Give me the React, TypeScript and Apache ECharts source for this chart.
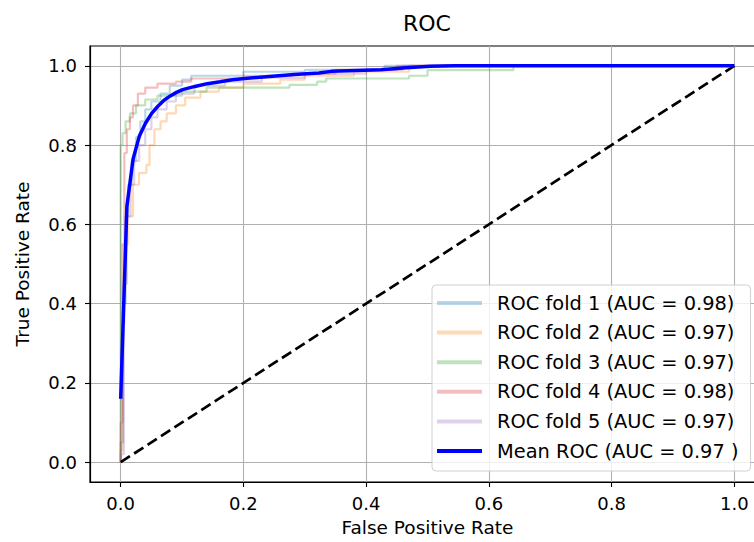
import React, { useEffect, useRef } from "react";
import * as echarts from "echarts";

// ---------- data ----------
const tickValues = [0, 0.2, 0.4, 0.6, 0.8, 1.0];

const foldNames = [
  "ROC fold 1 (AUC = 0.98)",
  "ROC fold 2 (AUC = 0.97)",
  "ROC fold 3 (AUC = 0.97)",
  "ROC fold 4 (AUC = 0.98)",
  "ROC fold 5 (AUC = 0.97)",
];
const meanName = "Mean ROC (AUC = 0.97 )";

const fold1 = [
  [0, 0], [0, 0.05], [0.004, 0.05], [0.004, 0.4], [0.008, 0.4], [0.008, 0.62], [0.012, 0.62], [0.012, 0.7],
  [0.018, 0.7], [0.018, 0.76], [0.025, 0.76], [0.025, 0.82], [0.032, 0.82], [0.032, 0.86], [0.04, 0.86],
  [0.04, 0.89], [0.05, 0.89], [0.05, 0.91], [0.065, 0.91], [0.065, 0.93], [0.08, 0.93], [0.08, 0.95],
  [0.1, 0.95], [0.1, 0.965], [0.115, 0.965], [0.115, 0.975], [0.2, 0.975], [0.2, 0.985], [0.3, 0.985],
  [0.3, 0.99], [0.43, 0.99], [0.43, 1], [1, 1],
];
const fold2 = [
  [0, 0], [0, 0.03], [0.003, 0.03], [0.003, 0.35], [0.006, 0.35], [0.006, 0.55], [0.012, 0.55], [0.012, 0.62],
  [0.02, 0.62], [0.02, 0.7], [0.03, 0.7], [0.03, 0.73], [0.042, 0.73], [0.042, 0.75], [0.047, 0.75],
  [0.047, 0.8], [0.055, 0.8], [0.055, 0.84], [0.065, 0.84], [0.065, 0.86], [0.075, 0.86], [0.075, 0.88],
  [0.09, 0.88], [0.09, 0.9], [0.105, 0.9], [0.105, 0.92], [0.13, 0.92], [0.13, 0.935], [0.16, 0.935],
  [0.16, 0.945], [0.2, 0.945], [0.2, 0.955], [0.26, 0.955], [0.26, 0.965], [0.3, 0.965], [0.3, 0.975],
  [0.38, 0.975], [0.38, 0.985], [0.47, 0.985], [0.47, 1], [1, 1],
];
const fold3 = [
  [0, 0], [0, 0.8], [0.003, 0.8], [0.003, 0.83], [0.008, 0.83], [0.008, 0.86], [0.015, 0.86], [0.015, 0.88],
  [0.025, 0.88], [0.025, 0.9], [0.04, 0.9], [0.04, 0.915], [0.06, 0.915], [0.06, 0.925], [0.1, 0.925],
  [0.1, 0.935], [0.14, 0.935], [0.14, 0.945], [0.275, 0.945], [0.275, 0.952], [0.32, 0.952],
  [0.32, 0.96], [0.335, 0.96], [0.335, 0.968], [0.47, 0.968], [0.47, 0.975], [0.5, 0.975], [0.5, 0.989],
  [0.64, 0.989], [0.64, 1], [1, 1],
];
const fold4 = [
  [0, 0], [0, 0.1], [0.003, 0.1], [0.003, 0.55], [0.006, 0.55], [0.006, 0.78], [0.01, 0.78], [0.01, 0.84],
  [0.015, 0.84], [0.015, 0.87], [0.02, 0.87], [0.02, 0.9], [0.028, 0.9], [0.028, 0.93], [0.04, 0.93],
  [0.04, 0.945], [0.06, 0.945], [0.06, 0.955], [0.09, 0.955], [0.09, 0.96], [0.115, 0.96], [0.115, 0.968],
  [0.2, 0.968], [0.2, 0.975], [0.28, 0.975], [0.28, 0.98], [0.35, 0.98], [0.35, 0.99], [0.45, 0.99],
  [0.45, 1], [1, 1],
];
const fold5 = [
  [0, 0], [0, 0.02], [0.005, 0.02], [0.005, 0.45], [0.01, 0.45], [0.01, 0.62], [0.016, 0.62], [0.016, 0.7],
  [0.022, 0.7], [0.022, 0.76], [0.03, 0.76], [0.03, 0.8], [0.04, 0.8], [0.04, 0.84], [0.05, 0.84],
  [0.05, 0.87], [0.06, 0.87], [0.06, 0.89], [0.075, 0.89], [0.075, 0.91], [0.09, 0.91], [0.09, 0.93],
  [0.12, 0.93], [0.12, 0.95], [0.17, 0.95], [0.17, 0.96], [0.23, 0.96], [0.23, 0.97], [0.3, 0.97],
  [0.3, 0.98], [0.4, 0.98], [0.4, 0.99], [0.46, 0.99], [0.46, 1], [1, 1],
];
const folds = [fold1, fold2, fold3, fold4, fold5];

const meanFpr = [
  0, 0.0101, 0.0202, 0.0303, 0.0404, 0.0505, 0.0606, 0.0707, 0.0808, 0.0909, 0.101, 0.121, 0.141, 0.162,
  0.182, 0.202, 0.242, 0.283, 0.323, 0.343, 0.384, 0.424, 0.465, 0.505, 0.545, 1.0,
];
const meanTpr = [
  0.16, 0.645, 0.765, 0.822, 0.855, 0.88, 0.898, 0.913, 0.924, 0.933, 0.94, 0.948, 0.955, 0.96,
  0.965, 0.968, 0.973, 0.978, 0.982, 0.986, 0.988, 0.99, 0.995, 0.999, 1.0, 1.0,
];

const chanceFpr = [0, 1];
const chanceTpr = [0, 1];

// ---------- styles ----------
const foldColors = [
  "rgba(31,119,180,0.3)",
  "rgba(255,127,14,0.3)",
  "rgba(44,160,44,0.3)",
  "rgba(214,39,40,0.3)",
  "rgba(148,103,189,0.3)",
];
const FONT = "DejaVu Sans";

export default function App() {
  const ref = useRef<HTMLDivElement>(null);
  useEffect(() => {
    if (!ref.current) return;
    const chart = echarts.init(ref.current, null, { renderer: "svg" });
    const axisCommon = {
      type: "value",
      min: -0.05,
      max: 1.05,
      axisLine: { show: true, onZero: false, lineStyle: { color: "#000", width: 1.2 } },
      axisTick: {
        show: true,
        inside: false,
        length: 5,
        customValues: tickValues,
        lineStyle: { color: "#000", width: 1.1 },
      },
      axisLabel: {
        customValues: tickValues,
        formatter: (v: number) => v.toFixed(1),
        fontFamily: FONT,
        fontSize: 18,
        color: "#000",
      },
      splitLine: { show: true, lineStyle: { color: "#b0b0b0", width: 1.1 } },
      nameLocation: "middle",
      nameTextStyle: { fontFamily: FONT, fontSize: 18.5, color: "#000" },
    };
    const series: any[] = folds.map((f, i) => ({
      name: foldNames[i],
      type: "line",
      data: f,
      symbol: "none",
      lineStyle: { color: foldColors[i], width: 2.2 },
      itemStyle: { color: foldColors[i] },
    }));
    series.push({
      name: "Chance",
      type: "line",
      data: chanceFpr.map((x, i) => [x, chanceTpr[i]]),
      symbol: "none",
      lineStyle: { color: "#000", width: 2.7, type: [11, 5] },
      itemStyle: { color: "#000" },
    });
    series.push({
      name: meanName,
      type: "line",
      data: meanFpr.map((x, i) => [x, meanTpr[i]]),
      symbol: "none",
      smooth: false,
      lineStyle: { color: "#0000ff", width: 3.5 },
      itemStyle: { color: "#0000ff" },
    });

    chart.setOption({
      animation: false,
      title: {
        text: "ROC",
        left: 427,
        top: 12,
        padding: 0,
        textAlign: "center",
        textStyle: { fontFamily: FONT, fontSize: 22, fontWeight: "normal", color: "#000" },
      },
      grid: {
        left: 90,
        top: 46,
        width: 675,
        height: 436,
        outerBoundsMode: "none",
        containLabel: false,
        show: true,
        borderColor: "#000",
        borderWidth: 1.2,
        backgroundColor: "#fff",
      },
      xAxis: {
        ...axisCommon,
        name: "False Positive Rate",
        nameGap: 36,
        axisLabel: { ...axisCommon.axisLabel, margin: 12 },
      },
      yAxis: {
        ...axisCommon,
        name: "True Positive Rate",
        nameGap: 58,
        nameRotate: 90,
        axisLabel: { ...axisCommon.axisLabel, margin: 13 },
      },
      legend: {
        orient: "vertical",
        left: 432,
        top: 285,
        padding: [8, 12, 10, 5],
        icon: "rect",
        itemWidth: 45,
        itemHeight: 4,
        itemGap: 9.6,
        data: [...foldNames, meanName],
        textStyle: { fontFamily: FONT, fontSize: 19.4, color: "#000", lineHeight: 20, padding: [0, 0, 0, 10] },
        backgroundColor: "rgba(255,255,255,0.8)",
        borderColor: "#d0d0d0",
        borderWidth: 1,
        borderRadius: 4,
      },
      series,
    });
    return () => chart.dispose();
  }, []);
  return (
    <div
      ref={ref}
      style={{ position: "fixed", left: 0, top: 0, width: 754, height: 542, background: "#fff" }}
    />
  );
}
